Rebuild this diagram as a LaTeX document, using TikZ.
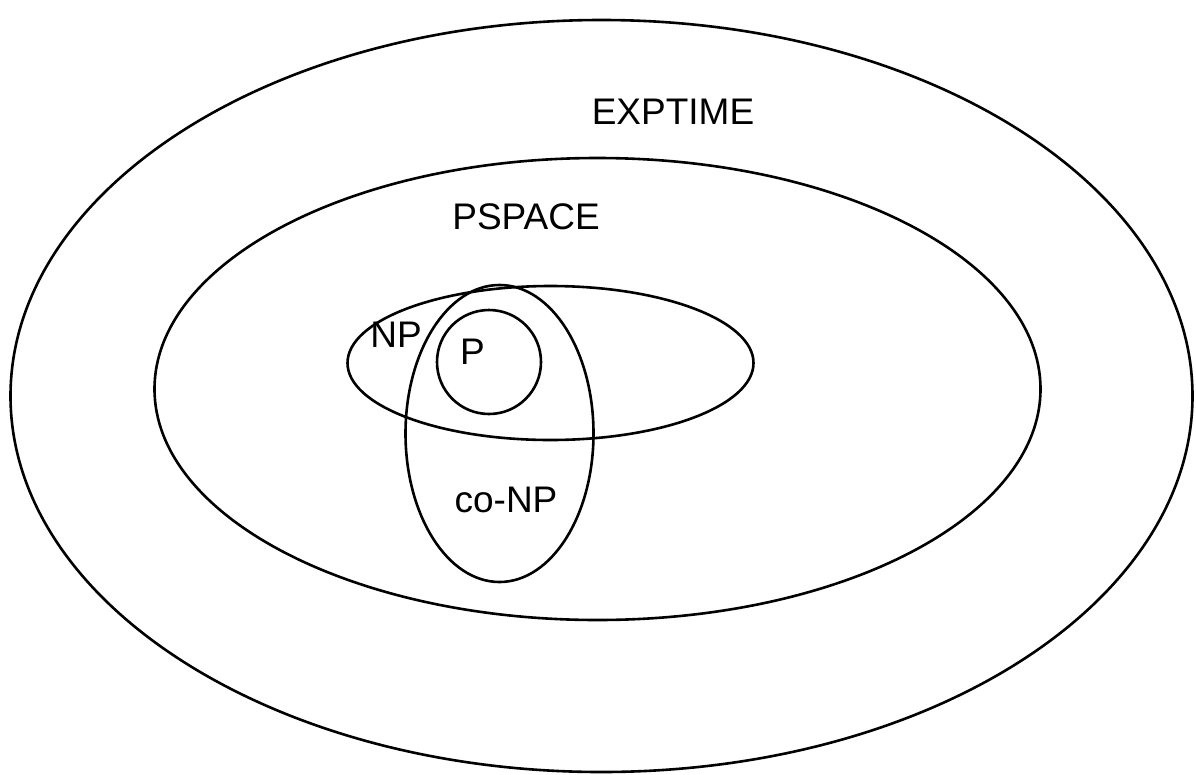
\documentclass[tikz,border=0pt]{standalone}
\usepackage{fontspec}
\setmainfont{Liberation Sans}
\begin{document}
\begin{tikzpicture}[x=1pt,y=-1pt,
  setline/.style={line width=2.6pt,black},
  setlabel/.style={font=\fontsize{37}{41}\selectfont,inner sep=0pt,anchor=center}]
\useasboundingbox (0,0) rectangle (1196,774);
\draw[setline] (601.5,396) ellipse [x radius=591,y radius=376];
\draw[setline] (597.5,389) ellipse [x radius=443,y radius=231];
\draw[setline] (550.5,363) ellipse [x radius=203,y radius=77];
\draw[setline] (499.5,433.5) ellipse [x radius=94,y radius=148.5];
\draw[setline] (489,362) circle [radius=52];
\node[setlabel] (exptime) at (673,112) {EXPTIME};
\node[setlabel] (pspace) at (526,217) {PSPACE};
\node[setlabel] (np) at (396,335) {NP};
\node[setlabel] (p) at (472.5,352) {P};
\node[setlabel] (conp) at (506,500) {co-NP};
\end{tikzpicture}
\end{document}
